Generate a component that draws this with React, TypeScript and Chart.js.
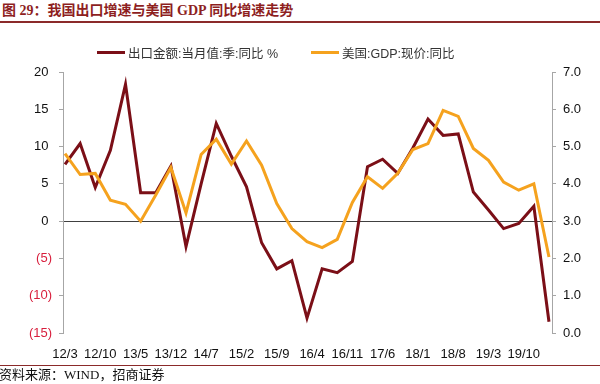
import React, { useEffect, useRef } from "react";
import { Chart, registerables } from "chart.js";

Chart.register(...registerables);

// Quarterly observations (year/month)
const quarters = [
  "12/3", "12/6", "12/9", "12/12",
  "13/3", "13/6", "13/9", "13/12",
  "14/3", "14/6", "14/9", "14/12",
  "15/3", "15/6", "15/9", "15/12",
  "16/3", "16/6", "16/9", "16/12",
  "17/3", "17/6", "17/9", "17/12",
  "18/3", "18/6", "18/9", "18/12",
  "19/3", "19/6", "19/9", "19/12",
  "20/3",
];

// 出口金额:当月值:季:同比 % (left axis)
const exportGrowth = [
  7.6, 10.4, 4.5, 9.5,
  18.35, 3.8, 3.8, 7.4,
  -3.4, 5.0, 13.1, 8.7,
  4.6, -2.9, -6.4, -5.3,
  -13.0, -6.4, -6.9, -5.4,
  7.3, 8.3, 6.4, 9.8,
  13.7, 11.5, 11.7, 3.9,
  1.5, -1.0, -0.3, 2.0,
  -13.5,
];

// 美国:GDP:现价:同比 (right axis)
const usGdpGrowth = [
  4.81, 4.25, 4.28, 3.56,
  3.45, 3.0, 3.7, 4.44,
  3.22, 4.79, 5.2, 4.53,
  5.15, 4.5, 3.47, 2.8,
  2.45, 2.29, 2.51, 3.5,
  4.19, 3.88, 4.28, 4.92,
  5.08, 5.97, 5.81, 4.95,
  4.63, 4.05, 3.83, 4.0,
  2.04,
];

const xTickLabels = [
  "12/3", "12/10", "13/5", "13/12", "14/7", "15/2", "15/9",
  "16/4", "16/11", "17/6", "18/1", "18/8", "19/3", "19/10",
];

const seriesNames = ["出口金额:当月值:季:同比 %", "美国:GDP:现价:同比"];
const seriesColors = ["#7B0F17", "#F5A21E"];

const titleText = "图 29：我国出口增速与美国 GDP 同比增速走势";
const sourceText = "资料来源：WIND，招商证券";

const monthIndex = (label: string) => {
  const [y, m] = label.split("/").map(Number);
  return (y - 12) * 12 + (m - 3);
};

export default function App() {
  const canvasRef = useRef<HTMLCanvasElement | null>(null);

  useEffect(() => {
    if (!canvasRef.current) return;
    const xTickValues = xTickLabels.map(monthIndex);
    const chart = new Chart(canvasRef.current, {
      type: "line",
      data: {
        datasets: [
          {
            label: seriesNames[0],
            data: quarters.map((q, i) => ({ x: monthIndex(q), y: exportGrowth[i] })),
            borderColor: seriesColors[0],
            backgroundColor: seriesColors[0],
            borderWidth: 3,
            pointRadius: 0,
            tension: 0,
            yAxisID: "y",
            order: 2,
          },
          {
            label: seriesNames[1],
            data: quarters.map((q, i) => ({ x: monthIndex(q), y: usGdpGrowth[i] })),
            borderColor: seriesColors[1],
            backgroundColor: seriesColors[1],
            borderWidth: 3,
            pointRadius: 0,
            tension: 0,
            yAxisID: "y1",
            order: 1,
          },
        ],
      },
      options: {
        responsive: false,
        animation: false,
        devicePixelRatio: 1,
        layout: { padding: { top: 72, left: 0, right: 0, bottom: 0 } },
        plugins: {
          legend: { display: false },
          title: { display: false },
          tooltip: { enabled: false },
        },
        scales: {
          x: {
            type: "linear",
            min: -0.4,
            max: 96.6,
            grid: { display: false },
            border: { display: false },
            afterBuildTicks: (axis: any) => {
              axis.ticks = xTickValues.map((v) => ({ value: v }));
            },
            afterFit: (axis: any) => {
              axis.height = 51;
            },
            ticks: {
              autoSkip: false,
              maxRotation: 0,
              padding: 6,
              color: "#111",
              font: { family: "'Liberation Sans', Arial, sans-serif", size: 13 },
              callback: (_v: any, i: number) => xTickLabels[i],
            },
          },
          y: {
            position: "left",
            min: -15,
            max: 20,
            afterFit: (axis: any) => {
              axis.width = 63;
            },
            ticks: {
              stepSize: 5,
              padding: 7,
              font: { family: "'Liberation Sans', Arial, sans-serif", size: 13 },
              color: (c: any) => (c.tick && c.tick.value < 0 ? "#D81E3C" : "#111"),
              callback: (v: any) => (Number(v) < 0 ? `(${-Number(v)})` : `${v} `),
            },
            grid: {
              color: (c: any) => (c.tick && c.tick.value === 0 ? "#404040" : "rgba(0,0,0,0)"),
              tickColor: "#A6A6A6",
              tickLength: 4,
              lineWidth: 1,
            },
            border: { color: "#A6A6A6", width: 1 },
          },
          y1: {
            position: "right",
            min: 0,
            max: 7,
            afterFit: (axis: any) => {
              axis.width = 48;
            },
            ticks: {
              stepSize: 1,
              padding: 7,
              color: "#111",
              font: { family: "'Liberation Sans', Arial, sans-serif", size: 13 },
              callback: (v: any) => Number(v).toFixed(1),
            },
            grid: {
              drawOnChartArea: false,
              tickColor: "#A6A6A6",
              tickLength: 4,
            },
            border: { color: "#A6A6A6", width: 1 },
          },
        },
      },
    } as any);
    return () => chart.destroy();
  }, []);

  const cjkSerif = "'Liberation Serif', 'Noto Sans CJK SC', serif";
  const sans = "'Liberation Sans', Arial, 'Noto Sans CJK SC', sans-serif";

  return (
    <div
      style={{
        position: "fixed",
        left: 0,
        top: 0,
        width: 600,
        height: 384,
        background: "#fff",
        overflow: "hidden",
      }}
    >
      <div
        style={{
          position: "absolute",
          left: 2,
          top: 2,
          fontFamily: cjkSerif,
          fontWeight: 700,
          fontSize: 14,
          lineHeight: "18px",
          color: "#8E1F1F",
          whiteSpace: "nowrap",
        }}
      >
        {titleText}
      </div>
      <div
        style={{
          position: "absolute",
          left: 0,
          top: 21,
          width: 600,
          height: 2,
          background: "#8B2A2A",
        }}
      />
      <canvas
        ref={canvasRef}
        width={600}
        height={384}
        style={{ position: "absolute", left: 0, top: 0, width: 600, height: 384 }}
      />
      <div
        style={{
          position: "absolute",
          left: 97,
          top: 43,
          height: 18,
          display: "flex",
          alignItems: "center",
          fontFamily: sans,
          fontSize: 12.5,
          color: "#333",
          whiteSpace: "nowrap",
        }}
      >
        {seriesNames.map((name, i) => (
          <div
            key={name}
            style={{ display: "flex", alignItems: "center", marginRight: 33 }}
          >
            <div style={{ width: 28, height: 3, background: seriesColors[i], marginRight: 3 }} />
            <span>{name}</span>
          </div>
        ))}
      </div>
      <div
        style={{
          position: "absolute",
          left: 0,
          top: 365,
          width: 600,
          height: 1,
          background: "#8B2A2A",
        }}
      />
      <div
        style={{
          position: "absolute",
          left: -1,
          top: 367,
          fontFamily: cjkSerif,
          fontSize: 13,
          lineHeight: "16px",
          color: "#111",
          whiteSpace: "nowrap",
        }}
      >
        {sourceText}
      </div>
    </div>
  );
}
